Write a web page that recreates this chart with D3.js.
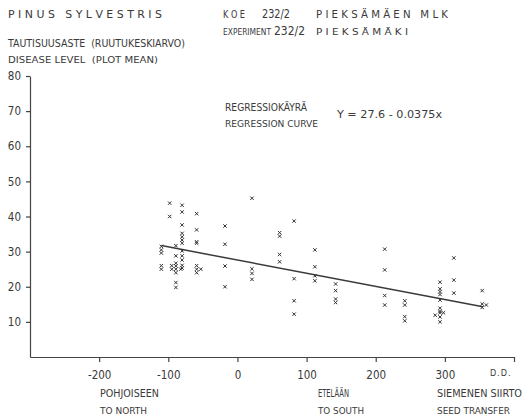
<!DOCTYPE html>
<html>
<head>
<meta charset="utf-8">
<script src="https://cdn.jsdelivr.net/npm/d3@7"></script>
<style>
  body { margin: 0; background: #fff; }
  text { font-family: "DejaVu Sans Condensed", "DejaVu Sans", sans-serif; fill: #3a3a3a; white-space: pre; }
</style>
</head>
<body>
<div id="chart"></div>
<script>
// seed transfer (d.d.) and plot mean disease level
const transfer = [
  -110, -110, -110, -110, -110,
  -98, -98, -95, -95,
  -89, -89, -89, -89, -89, -89, -89, -89,
  -80, -80, -80, -80, -80, -80, -80, -80, -80, -80, -80, -80, -82,
  -59, -59, -59, -59, -59, -59, -59, -53,
  -18, -18, -18, -18,
  21, 21, 21, 21,
  61, 61, 61, 61,
  82, 82, 82, 82,
  112, 112, 112, 112,
  142, 142, 142, 142,
  213, 213, 213, 213,
  242, 242, 242, 242,
  293, 293, 293, 293, 293, 293, 293, 293, 293, 293, 298, 286,
  313, 313, 313,
  354, 354, 354, 360
];
const disease = [
  31.5, 30.5, 29.6, 26, 25,
  43.8, 40, 26, 25,
  31.7, 28.8, 26.7, 25.9, 25, 24, 21.2, 19.8,
  43.2, 41.3, 37.6, 35.2, 34.2, 33.3, 32.4, 30.2, 28.8, 27.6, 26.1, 25.3, 25,
  40.8, 36.2, 32.8, 32.4, 26, 25, 24, 25,
  37.3, 32.1, 25.9, 20,
  45.2, 25.1, 23.8, 22.1,
  35.4, 34.4, 29.2, 27.1,
  38.7, 22.3, 16, 12.2,
  30.5, 25.7, 23.1, 21.7,
  20.8, 18.9, 16.5, 15.5,
  30.7, 24.8, 17.5, 14.8,
  16, 14.8, 11.5, 10.3,
  21.3, 19.4, 18.6, 17.8, 16.2, 13.9, 13, 11.4, 10, 12.6, 12.6, 11.9,
  28.2, 21.9, 18.2,
  18.9, 15.1, 14.1, 14.8
];
const xTicks = [-200, -100, 0, 100, 200, 300, 400];
const yTicks = [10, 20, 30, 40, 50, 60, 70, 80];
const intercept = 27.6, slope = -0.0375;
const lineRange = [-110, 355];

const svgWidth = 525, svgHeight = 419;
const margin = { top: 76, right: 11, bottom: 62, left: 30 };
const width = svgWidth - margin.left - margin.right;
const height = svgHeight - margin.top - margin.bottom;

const svg = d3.select("#chart").append("svg")
  .attr("width", svgWidth)
  .attr("height", svgHeight);

const g = svg.append("g")
  .attr("transform", `translate(${margin.left},${margin.top})`);

const x = d3.scaleLinear().domain([-300, 400]).range([0, width]);
const y = d3.scaleLinear().domain([0, 80]).range([height, 0]);

const xAxis = g.append("g")
  .attr("transform", `translate(0,${height})`)
  .call(d3.axisBottom(x).tickValues(xTicks).tickSize(5).tickSizeOuter(0)
    .tickFormat(d => d === 400 ? "D.D." : d));
xAxis.selectAll("text").attr("dy", "1.2em").style("font-size", "11.5px");
xAxis.selectAll(".tick").filter(d => d === 400).select("text")
  .attr("text-anchor", "end").attr("dx", "-3").style("font-size", "9px")
  .style("letter-spacing", "1px");

const yAxis = g.append("g")
  .call(d3.axisLeft(y).tickValues(yTicks).tickSize(4).tickSizeOuter(0));
yAxis.selectAll("text").attr("x", -9).style("font-size", "11.5px");

g.selectAll(".domain, .tick line").attr("stroke", "#444").attr("stroke-width", 1.2);

g.append("line")
  .attr("x1", x(lineRange[0])).attr("y1", y(intercept + slope * lineRange[0]))
  .attr("x2", x(lineRange[1])).attr("y2", y(intercept + slope * lineRange[1]))
  .attr("stroke", "#3a3a3a").attr("stroke-width", 1.5);

const mark = d3.symbol().type(d3.symbolTimes).size(9);
g.selectAll(".pt")
  .data(transfer.map((t, i) => [t, disease[i]]))
  .enter().append("path")
  .attr("class", "pt")
  .attr("transform", d => `translate(${x(d[0])},${y(d[1])})`)
  .attr("d", mark)
  .attr("fill", "none")
  .attr("stroke", "#333")
  .attr("stroke-width", 1);

// titles and labels, stretched to the widths in the original
const label = (tx, ty, str, size, len) => svg.append("text")
  .attr("x", tx).attr("y", ty).text(str)
  .attr("textLength", len).attr("lengthAdjust", "spacingAndGlyphs")
  .style("font-size", size + "px");

label(8, 18, "P I N U S   S Y L V E S T R I S", 10.5, 154);
label(223, 18, "K O E", 10.5, 22);
label(262, 18, "232/2", 12, 28);
label(316, 18, "P I E K S Ä M Ä E N   M L K", 10.5, 132);
label(223, 35, "EXPERIMENT", 9, 48);
label(274, 35, "232/2", 12, 31);
label(316, 35, "P I E K S Ä M Ä K I", 9, 92);
label(8, 47, "TAUTISUUSASTE  (RUUTUKESKIARVO)", 10, 177);
label(8, 63, "DISEASE LEVEL  (PLOT MEAN)", 8.5, 150);
label(225, 111, "REGRESSIOKÄYRÄ", 10, 82);
label(225, 127, "REGRESSION CURVE", 8.5, 93);
label(337, 118, "Y = 27.6 - 0.0375x", 10, 105);
label(100, 397, "POHJOISEEN", 10.5, 59);
label(100, 414, "TO NORTH", 8.5, 47);
label(318, 397, "ETELÄÄN", 10.5, 31);
label(318, 414, "TO SOUTH", 8.5, 46);
label(437, 397, "SIEMENEN SIIRTO", 10.5, 85);
label(437, 414, "SEED TRANSFER", 8.5, 73);
</script>
</body>
</html>
